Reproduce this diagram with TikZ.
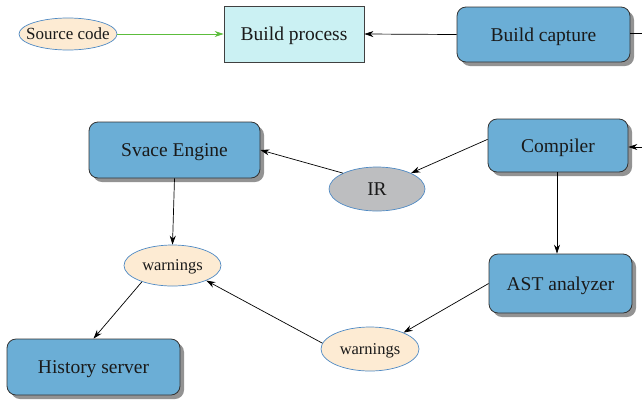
\documentclass[tikz,border=0pt]{standalone}
\usepackage{fontspec}
\setmainfont{Liberation Serif}
\usetikzlibrary{shadows,arrows.meta,shapes.geometric}
\definecolor{boxblue}{HTML}{6BAED6}
\definecolor{cyanbox}{HTML}{CBF1F3}
\definecolor{peach}{HTML}{FDEBD3}
\definecolor{ellborder}{HTML}{4F8AC4}
\definecolor{irgray}{HTML}{BDBEC0}
\definecolor{arrowgreen}{HTML}{5CBD3C}
\definecolor{txt}{HTML}{1A1A1A}
\tikzset{
  x=1pt,y=1pt,
  bluebox/.style={draw=black!80, line width=0.8pt, fill=boxblue, rounded corners=9pt, inner sep=0pt,
    drop shadow={shadow xshift=4pt, shadow yshift=-4pt, fill=black!65, opacity=0.65},
    font=\fontsize{19.5}{21}\selectfont, text=txt, text depth=0pt},
  plainbox/.style={draw=black!75, line width=0.8pt, fill=cyanbox, inner sep=0pt,
    font=\fontsize{19.5}{21}\selectfont, text=txt, text depth=0pt},
  ell/.style={ellipse, draw=ellborder, line width=0.7pt, fill=peach, inner xsep=-40pt, inner ysep=-20pt,
    font=\fontsize{16.5}{18}\selectfont, text=txt, text depth=0pt},
  arr/.style={draw=black, line width=0.7pt, -{Stealth[length=9pt,width=6pt]}},
  garr/.style={draw=arrowgreen, line width=0.8pt, -{Stealth[length=9pt,width=6pt]}},
}
\begin{document}
\begin{tikzpicture}
\useasboundingbox (0,0) rectangle (642,-400);
\node[ell, minimum width=98, minimum height=32, font=\fontsize{17}{18}\selectfont] (src) at (68,-34) {Source code};
\node[plainbox, minimum width=140, minimum height=56] (bp) at (294,-34) {Build process};
\node[bluebox, minimum width=173, minimum height=55] (bc) at (543.5,-34.5) {Build capture};
\node[bluebox, minimum width=140, minimum height=53] (comp) at (558,-145.5) {Compiler};
\node[bluebox, minimum width=171, minimum height=56] (svace) at (174.5,-150) {Svace Engine};
\node[ell, fill=irgray, minimum width=96, minimum height=44, font=\fontsize{19.5}{21}\selectfont] (ir) at (377,-189) {IR};
\node[ell, minimum width=97, minimum height=41] (w1) at (172.5,-265.5) {warnings};
\node[bluebox, minimum width=173, minimum height=56] (hist) at (93.5,-367) {History server};
\node[bluebox, minimum width=143, minimum height=59] (ast) at (560.5,-283.5) {AST analyzer};
\node[ell, minimum width=98, minimum height=44] (w2) at (370,-349) {warnings};
\coordinate (edge1) at (642,-33);
\coordinate (edge2) at (642,-147);

\draw[garr] (src.east) -- (bp.west);
\draw[arr] (bc.west) -- (bp.east);
\draw[line width=0.7pt] (bc.east |- edge1) -- (edge1);
\draw[arr] (edge2) -- (comp.east |- edge2);
\draw[arr] (comp.175) -- (ir.25);
\draw[arr] (ir.155) -- (svace.east);
\draw[arr] (svace.south) -- (w1.north);
\draw[arr] (w1.208) -- (hist.north);
\draw[arr] ([xshift=-1pt]comp.south) -- ([xshift=-1pt]comp.south |- ast.north);
\draw[arr] (ast.west) -- (w2.26);
\draw[arr] (w2.173) -- (w1.336);
\end{tikzpicture}
\end{document}
